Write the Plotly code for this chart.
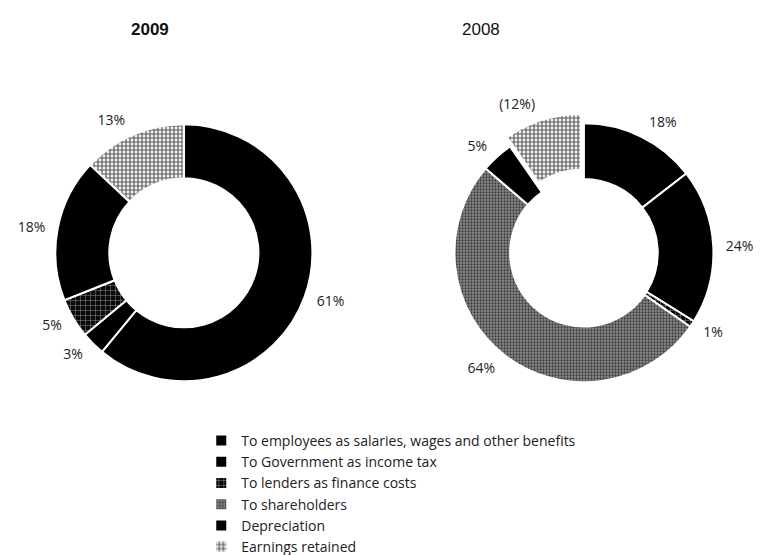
import plotly.graph_objects as go

labels = ["To employees as salaries, wages and other benefits",
          "To Government as income tax",
          "To lenders as finance costs",
          "To shareholders",
          "Depreciation",
          "Earnings retained"]
values_2009 = [61, 3, 5, 0, 18, 13]
text_2009 = ["61%", "3%", "5%", "", "18%", "13%"]
values_2008 = [18, 24, 1, 64, 5, 12]
text_2008 = ["18%", "24%", "1%", "64%", "5%", "(12%)"]

W, H = 772, 555
colors = ["#000000", "#000000", "#0a0a0a", "#8e8e8e", "#000000", "#f2f2f2"]
pattern = dict(
    shape=["", "", "+", ".", "", "+"],
    bgcolor=colors,
    fgcolor=["#000", "#000", "#bdbdbd", "#3c3c3c", "#000", "#5a5a5a"],
    size=[6, 6, 5, 3, 6, 4],
    solidity=[0.3, 0.3, 0.14, 0.45, 0.3, 0.5],
    fillmode="replace",
)

def dom(cx, cy, r):
    return dict(x=[(cx - r) / W, (cx + r) / W], y=[(H - cy - r) / H, (H - cy + r) / H])

font = dict(family="Open Sans", size=14, color="#222222")
title_font = "Liberation Sans, Arial, sans-serif"
clear = ["rgba(0,0,0,0)"] * 6

# geometry: (center x, center y, outer radius) in pixels
g08 = (596, 247, 134)
g09 = (182, 247, 133)
pull08 = 0.075
lab_gap = 8

fig = go.Figure()
fig.add_trace(go.Pie(
    labels=labels, values=values_2008, textinfo="none",
    sort=False, direction="clockwise", rotation=0,
    hole=0.57, pull=[0, 0, 0, 0, 0, pull08],
    marker=dict(colors=colors, pattern=pattern, line=dict(color="white", width=2)),
    domain=dom(g08[0], g08[1], g08[2] * (1 + pull08)), text=text_2008,
    hoverinfo="label+text", name="2008"))
fig.add_trace(go.Pie(
    labels=labels, values=values_2009, textinfo="none",
    sort=False, direction="clockwise", rotation=0,
    hole=0.58,
    marker=dict(colors=colors, pattern=pattern, line=dict(color="white", width=2)),
    domain=dom(*g09), text=text_2009, hoverinfo="label+text", name="2009"))

# label-only rings, slightly larger, so outside labels sit a bit further out
fig.add_trace(go.Pie(
    labels=labels, values=values_2008, text=text_2008, textinfo="text",
    textposition="outside", sort=False, direction="clockwise", rotation=0,
    hole=0.9, pull=[0, 0, 0, 0, 0, pull08], showlegend=False, hoverinfo="skip",
    marker=dict(colors=clear, line=dict(width=0)),
    domain=dom(g08[0], g08[1], (g08[2] + lab_gap) * (1 + pull08)), textfont=font))
fig.add_trace(go.Pie(
    labels=labels, values=values_2009, text=text_2009, textinfo="text",
    textposition="outside", sort=False, direction="clockwise", rotation=0,
    hole=0.9, showlegend=False, hoverinfo="skip",
    marker=dict(colors=clear, line=dict(width=0)),
    domain=dom(g09[0], g09[1], g09[2] + lab_gap), textfont=font))

fig.update_layout(
    width=W, height=H, margin=dict(l=0, r=0, t=0, b=0),
    paper_bgcolor="white", plot_bgcolor="white",
    font=font,
    legend=dict(x=200 / W, xanchor="left", y=(H - 421) / H, yanchor="top",
                font=dict(family="Open Sans", size=14, color="#222222"),
                traceorder="normal"),
    annotations=[
        dict(text="<b>2009</b>", x=147 / W, y=(H - 22) / H, xref="paper", yref="paper",
             xanchor="center", yanchor="middle",
             showarrow=False, font=dict(family=title_font, size=17, color="#111")),
        dict(text="2008", x=490 / W, y=(H - 22) / H, xref="paper", yref="paper",
             xanchor="center", yanchor="middle",
             showarrow=False, font=dict(family=title_font, size=17, color="#111")),
    ],
)
fig.write_html("out.html")
